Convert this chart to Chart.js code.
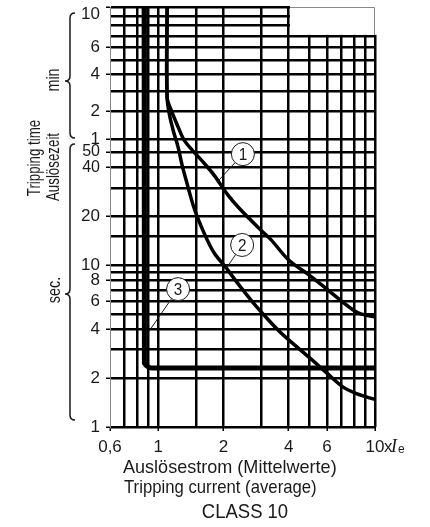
<!DOCTYPE html>
<html>
<head>
<meta charset="utf-8">
<script src="https://cdn.jsdelivr.net/npm/chart.js@4/dist/chart.umd.min.js"></script>
<style>
  html, body { margin: 0; padding: 0; background: #fff; }
</style>
</head>
<body>
<canvas id="tripChart" width="430" height="527"></canvas>
<script>
// x = multiples of Ie, y = tripping time in seconds
const xGrid = [0.6, 0.7, 0.8, 0.9, 1, 1.5, 2, 3, 4, 5, 6, 7, 8, 9, 10];
const xLabels = { 0.6: '0,6', 1: '1', 2: '2', 4: '4', 6: '6', 10: '10' };
const yGridSec = [1, 2, 3, 4, 5, 6, 7, 8, 9, 10, 15, 20, 30, 40, 50, 60, 120, 180, 240, 300, 360, 420, 480, 540, 600];
const yLabels = { 1: '1', 2: '2', 4: '4', 6: '6', 8: '8', 10: '10', 20: '20', 40: '40', 50: '50', 60: '1', 120: '2', 240: '4', 360: '6', 600: '10' };

// curve 1
const curve1X = [1.10, 1.10, 1.148, 1.236, 1.318, 1.465, 1.628, 1.811, 2.10, 2.36, 2.98, 3.32, 4.01, 4.96, 6.07, 7.1, 7.9, 8.6, 10];
const curve1Y = [600, 160, 123, 83, 59.1, 49.8, 42.6, 35.9, 27.0, 22.5, 16.4, 14.3, 10.7, 8.7, 7.0, 5.9, 5.3, 4.99, 4.78];
// curve 2
const curve2X = [1.10, 1.10, 1.124, 1.172, 1.236, 1.29, 1.346, 1.465, 1.628, 1.811, 2.06, 2.33, 2.68, 3.08, 3.57, 4.0, 4.96, 6.0, 7.1, 8.1, 9.2, 10];
const curve2Y = [600, 160, 115, 76.7, 53.5, 41.4, 33.5, 22.5, 15.8, 11.9, 9.6, 7.7, 6.08, 4.91, 3.97, 3.45, 2.7, 2.15, 1.77, 1.62, 1.53, 1.48];
// curve 3
const curve3X = [0.862, 0.862, 0.8675, 0.8833, 0.909, 0.9384, 10];
const curve3Y = [600, 2.59, 2.48, 2.39, 2.33, 2.31, 2.31];

// numbered markers: circle centre and the point on the curve it refers to
const markerText = ['1', '2', '3'];
const markerAt = [[2.46, 48.4], [2.44, 13.3], [1.236, 7.1]];
const markerTo = [[1.87, 32.5], [2.08, 9.7], [0.89, 3.75]];

const FONT = '"Liberation Sans", Arial, sans-serif';
const INK = '#1a1a1a';

// seconds part is log10, the minutes part above 1 min is drawn squeezed
const MIN_POWER = 0.4;
const MIN_SPAN = 0.815;
function axisPos(sec) {
  if (sec <= 60) return Math.log10(sec);
  const k = MIN_SPAN / (Math.pow(10, MIN_POWER) - 1);
  return Math.log10(60) + k * (Math.pow(sec / 60, MIN_POWER) - 1);
}
function toPoints(xs, ys) {
  return xs.map((x, i) => ({ x: x, y: axisPos(ys[i]) }));
}

function drawBrace(ctx, x, yTop, yBot, yTip) {
  const h = 5;
  ctx.beginPath();
  ctx.moveTo(x + h, yTop);
  ctx.quadraticCurveTo(x, yTop, x, yTop + h);
  ctx.lineTo(x, yTip - h);
  ctx.quadraticCurveTo(x, yTip, x - h, yTip);
  ctx.quadraticCurveTo(x, yTip, x, yTip + h);
  ctx.lineTo(x, yBot - h);
  ctx.quadraticCurveTo(x, yBot, x + h, yBot);
  ctx.stroke();
}

// narrow text: the reference uses a condensed face
function narrowText(ctx, text, x, y, sx, rotate) {
  ctx.save();
  ctx.translate(x, y);
  if (rotate) ctx.rotate(-Math.PI / 2);
  ctx.scale(sx, 1);
  ctx.fillText(text, 0, 0);
  ctx.restore();
}

const decorations = {
  id: 'decorations',
  beforeDatasetsDraw(chart) {
    // empty box in the top right corner
    const { ctx, chartArea: a, scales: { x, y } } = chart;
    const bx = x.getPixelForValue(4) + 1.3;
    const by = y.getPixelForValue(axisPos(420)) - 1.3;
    ctx.save();
    ctx.fillStyle = '#fff';
    ctx.fillRect(bx, a.top - 3, a.right + 3 - bx, by - a.top + 3);
    ctx.strokeStyle = '#888';
    ctx.lineWidth = 1;
    ctx.beginPath();
    ctx.moveTo(bx, a.top + 0.5);
    ctx.lineTo(a.right - 0.5, a.top + 0.5);
    ctx.lineTo(a.right - 0.5, by);
    ctx.stroke();
    ctx.restore();
  },
  afterDatasetsDraw(chart) {
    const { ctx, scales: { x, y } } = chart;
    ctx.save();
    markerText.forEach((t, i) => {
      const cx = x.getPixelForValue(markerAt[i][0]);
      const cy = y.getPixelForValue(axisPos(markerAt[i][1]));
      const ex = x.getPixelForValue(markerTo[i][0]);
      const ey = y.getPixelForValue(axisPos(markerTo[i][1]));
      const r = 11.5;
      const ang = Math.atan2(ey - cy, ex - cx);
      ctx.strokeStyle = INK;
      ctx.lineWidth = 1;
      ctx.beginPath();
      ctx.moveTo(cx + r * Math.cos(ang), cy + r * Math.sin(ang));
      ctx.lineTo(ex, ey);
      ctx.stroke();
      ctx.beginPath();
      ctx.arc(cx, cy, r, 0, Math.PI * 2);
      ctx.fillStyle = '#fff';
      ctx.fill();
      ctx.stroke();
      ctx.fillStyle = INK;
      ctx.font = '17px ' + FONT;
      ctx.textAlign = 'center';
      ctx.textBaseline = 'middle';
      narrowText(ctx, t, cx, cy + 1, 0.9, false);
    });
    ctx.restore();
  },
  afterDraw(chart) {
    const { ctx, chartArea: a, scales: { x } } = chart;
    ctx.save();
    ctx.strokeStyle = INK;
    ctx.lineWidth = 1.5;
    drawBrace(ctx, 70, 13, 138, 81);
    drawBrace(ctx, 70, 144, 420, 294);

    ctx.fillStyle = INK;
    ctx.textAlign = 'center';
    ctx.textBaseline = 'middle';
    ctx.font = '18px ' + FONT;
    narrowText(ctx, 'Tripping time', 35, 158, 0.74, true);
    narrowText(ctx, 'Auslösezeit', 54, 167, 0.74, true);
    narrowText(ctx, 'min', 54, 80, 0.8, true);
    narrowText(ctx, 'sec.', 55, 290, 0.8, true);

    // unit after the last x label
    const x10 = x.getPixelForValue(10);
    const ly = a.bottom + 20;
    ctx.textAlign = 'left';
    ctx.font = '17px ' + FONT;
    ctx.fillText('x', x10 + 9, ly);
    ctx.font = 'italic 18px "Liberation Serif", serif';
    ctx.fillText('I', x10 + 16, ly);
    ctx.font = '12px ' + FONT;
    ctx.fillText('e', x10 + 23, ly + 3);

    ctx.font = '19px ' + FONT;
    narrowText(ctx, 'Auslösestrom (Mittelwerte)', 123, 468, 0.95, false);
    narrowText(ctx, 'Tripping current (average)', 124, 488, 0.88, false);
    ctx.textAlign = 'center';
    ctx.font = '21px ' + FONT;
    narrowText(ctx, 'CLASS 10', 245, 512, 0.88, false);
    ctx.restore();
  }
};

const lastY = yGridSec.length - 1;

new Chart(document.getElementById('tripChart'), {
  type: 'scatter',
  data: {
    datasets: [
      { label: '1', data: toPoints(curve1X, curve1Y), borderColor: '#000', borderWidth: 3.5, tension: 0.35 },
      { label: '2', data: toPoints(curve2X, curve2Y), borderColor: '#000', borderWidth: 3.5, tension: 0.35 },
      { label: '3', data: toPoints(curve3X, curve3Y), borderColor: '#000', borderWidth: 5, tension: 0 },
    ],
  },
  options: {
    responsive: false,
    animation: false,
    devicePixelRatio: 1,
    showLine: true,
    elements: {
      point: { radius: 0, hoverRadius: 0 },
      line: { borderJoinStyle: 'round', borderCapStyle: 'butt', fill: false },
    },
    layout: { padding: { left: 0, top: 7, right: 55, bottom: 0 } },
    plugins: { legend: { display: false }, tooltip: { enabled: false } },
    scales: {
      x: {
        type: 'logarithmic',
        min: 0.6,
        max: 10,
        afterBuildTicks: (s) => { s.ticks = xGrid.map((v) => ({ value: v })); },
        afterFit: (s) => { s.height = 100; s.paddingLeft = 0; s.paddingRight = 0; },
        border: { display: false },
        grid: {
          color: (c) => (c.tick && c.tick.value === 0.6 ? 'rgba(0,0,0,0)' : '#000'),
          lineWidth: 2.5,
          tickLength: 4,
          tickWidth: 1.5,
          tickColor: (c) => (c.tick && xLabels[c.tick.value] ? '#000' : 'rgba(0,0,0,0)'),
        },
        ticks: {
          autoSkip: false,
          maxRotation: 0,
          padding: 6,
          color: INK,
          font: { family: FONT, size: 17 },
          callback: (v, i) => xLabels[xGrid[i]] || '',
        },
      },
      y: {
        type: 'linear',
        min: 0,
        max: axisPos(600),
        afterBuildTicks: (s) => { s.ticks = yGridSec.map((v) => ({ value: axisPos(v) })); },
        afterFit: (s) => { s.width = 110; s.paddingTop = 0; s.paddingBottom = 0; },
        border: { display: true, color: '#888', width: 1 },
        grid: {
          color: '#000',
          lineWidth: 2.5,
          tickLength: 4,
          tickWidth: 1.5,
          tickColor: (c) => (yLabels[yGridSec[c.index]] ? '#000' : 'rgba(0,0,0,0)'),
        },
        ticks: {
          autoSkip: false,
          padding: 6,
          color: INK,
          font: (c) => ({
            family: FONT,
            size: (c.tick && (c.tick.value === axisPos(50) || c.tick.value === axisPos(40))) ? 16 : 17,
            lineHeight: c.index === lastY ? '14px' : 1.2,
          }),
          // the top label sits below its line, as it does at the chart's top edge
          callback: (v, i) => {
            const t = yLabels[yGridSec[i]] || '';
            return i === lastY ? ['', t] : t;
          },
        },
      },
    },
  },
  plugins: [decorations],
});
</script>
</body>
</html>
